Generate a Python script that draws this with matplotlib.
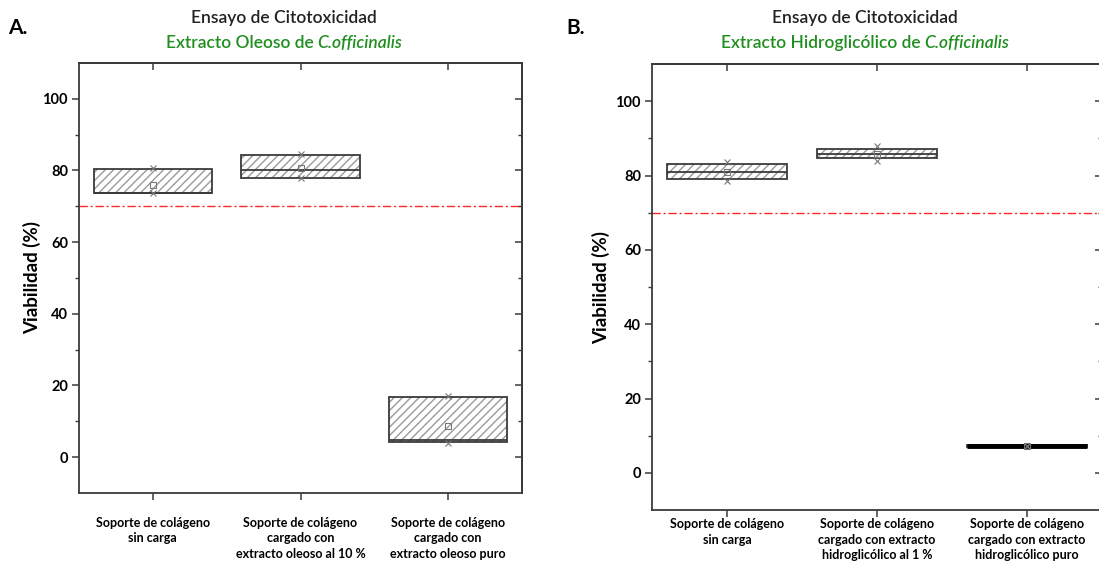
import matplotlib.pyplot as plt

plt.rcParams['font.family'] = ['Lato', 'DejaVu Sans']

# categorias de cada panel
categorias_a = ['Soporte de colágeno\nsin carga',
                'Soporte de colágeno\ncargado con\nextracto oleoso al 10 %',
                'Soporte de colágeno\ncargado con\nextracto oleoso puro']
categorias_b = ['Soporte de colágeno\nsin carga',
                'Soporte de colágeno\ncargado con extracto\nhidroglicólico al 1 %',
                'Soporte de colágeno\ncargado con extracto\nhidroglicólico puro']

# valores (viabilidad %)
q1_a = [73.6, 77.8, 4.2]
mediana_a = [73.6, 80.0, 4.7]
q3_a = [80.3, 84.2, 16.9]
media_a = [76.0, 80.8, 8.6]
min_a = [73.6, 78.0, 4.0]
max_a = [80.6, 84.5, 17.2]

q1_b = [79.0, 84.6, 7.0]
mediana_b = [81.0, 85.8, 7.3]
q3_b = [83.0, 87.1, 7.6]
media_b = [81.0, 85.8, 7.3]
min_b = [78.5, 84.0, 7.3]
max_b = [83.5, 88.0, 7.3]

umbral = 70

borde = '#3a3a3a'
verde = '#1f8f1f'

fig = plt.figure(figsize=(10.99, 5.73), dpi=100)
ax_a = fig.add_axes([79 / 1099, 80 / 573, 443 / 1099, 430 / 573])
ax_b = fig.add_axes([652 / 1099, 63 / 573, 450 / 1099, 446 / 573])


def dibujar_panel(ax, cats, q1, med, q3, media, vmin, vmax, pad_x, grueso=None):
    x = list(range(1, len(cats) + 1))
    alto = [b - a for a, b in zip(q1, q3)]
    # relleno rayado
    ax.bar(x, alto, bottom=q1, width=0.8, color='white', edgecolor='#9a9a9a',
           hatch='////', linewidth=0, zorder=2)
    # contorno de la caja
    ax.bar(x, alto, bottom=q1, width=0.8, fill=False, edgecolor=borde,
           linewidth=1.3, zorder=3)
    ax.hlines(med, [i - 0.4 for i in x], [i + 0.4 for i in x], color=borde,
              linewidth=1.3, zorder=3)
    if grueso is not None:
        ax.hlines(med[grueso], grueso + 1 - 0.4, grueso + 1 + 0.4, color='black',
                  linewidth=3.5, zorder=4)
    ax.plot(x, media, ls='none', marker='s', ms=4, mfc='none', mec='#777777',
            mew=0.8, zorder=5)
    ax.plot(x, vmin, ls='none', marker='x', ms=4, color='#777777', mew=0.8, zorder=5)
    ax.plot(x, vmax, ls='none', marker='x', ms=4, color='#777777', mew=0.8, zorder=5)

    ax.axhline(umbral, color='red', ls=(0, (6, 2, 1.5, 2)), lw=1, alpha=0.85, zorder=1)

    ax.set_xlim(0.5, len(cats) + 0.5)
    ax.set_ylim(-10, 110)
    ax.set_xticks(x)
    ax.set_xticklabels(cats, fontsize=9, fontweight='bold', linespacing=1.35)
    ax.set_yticks(range(0, 101, 20))
    ax.set_yticks(range(10, 100, 20), minor=True)
    ax.set_yticklabels([str(v) for v in range(0, 101, 20)], fontsize=10.5,
                       fontweight='bold')
    ax.tick_params(axis='both', which='major', direction='out', length=5,
                   width=1.1, color=borde, pad=3)
    ax.tick_params(axis='x', pad=pad_x)
    ax.tick_params(axis='y', which='minor', direction='out', length=3,
                   width=1, color=borde)
    for s in ax.spines.values():
        s.set_linewidth(1.3)
        s.set_color(borde)
    ax.set_ylabel('Viabilidad (%)', fontsize=13.5, fontweight='bold')

    # ticks espejo arriba y a la derecha
    arriba = ax.secondary_xaxis('top')
    arriba.set_xticks(x)
    arriba.tick_params(direction='in', length=5, width=1.1, color=borde,
                       labeltop=False)
    arriba.spines['top'].set_linewidth(1.3)
    arriba.spines['top'].set_color(borde)
    derecha = ax.secondary_yaxis('right')
    derecha.set_yticks(range(0, 101, 20))
    derecha.set_yticks(range(10, 100, 20), minor=True)
    derecha.tick_params(which='major', direction='in', length=5, width=1.1,
                        color=borde, labelright=False)
    derecha.tick_params(which='minor', direction='in', length=3, width=1,
                        color=borde)
    derecha.spines['right'].set_linewidth(1.3)
    derecha.spines['right'].set_color(borde)


dibujar_panel(ax_a, categorias_a, q1_a, mediana_a, q3_a, media_a, min_a, max_a,
              pad_x=12)
dibujar_panel(ax_b, categorias_b, q1_b, mediana_b, q3_b, media_b, min_b, max_b,
              pad_x=1, grueso=2)
ax_a.yaxis.set_label_coords(-0.085, 0.5)
ax_b.yaxis.set_label_coords(-0.092, 0.5)

# titulos
renderer = fig.canvas.get_renderer()


def titulo(xc, linea1, normal, cursiva):
    fig.text(xc / 1099, 1 - 18 / 573, linea1, ha='center', va='center',
             fontsize=12.5, fontweight='semibold', color='#222222')
    t1 = fig.text(0, 1 - 43 / 573, normal, ha='left', va='center',
                  fontsize=12.5, fontweight='semibold', color=verde)
    t2 = fig.text(0, 1 - 43 / 573, cursiva, ha='left', va='center',
                  fontsize=12.5, fontweight='semibold', style='italic', color=verde)
    w1 = t1.get_window_extent(renderer).width
    w2 = t2.get_window_extent(renderer).width
    hueco = 4
    x0 = xc - (w1 + hueco + w2) / 2
    t1.set_x(x0 / 1099)
    t2.set_x((x0 + w1 + hueco) / 1099)


titulo(284, 'Ensayo de Citotoxicidad', 'Extracto Oleoso de', 'C.officinalis')
titulo(865, 'Ensayo de Citotoxicidad', 'Extracto Hidroglicólico de', 'C.officinalis')

fig.text(8 / 1099, 1 - 28 / 573, 'A.', fontsize=15, fontweight='bold', va='center')
fig.text(566 / 1099, 1 - 28 / 573, 'B.', fontsize=15, fontweight='bold', va='center')

fig.savefig('out.png', dpi=100)
